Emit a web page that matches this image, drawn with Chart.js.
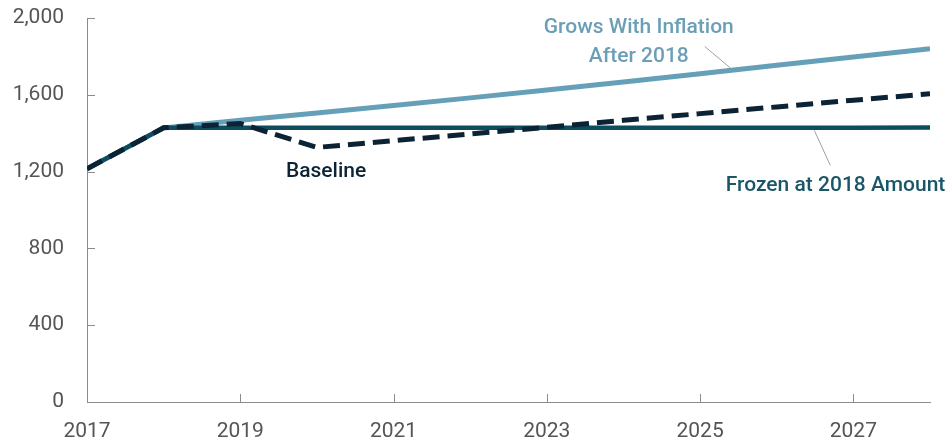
<!DOCTYPE html>
<html>
<head>
<meta charset="utf-8">
<script src="https://cdn.jsdelivr.net/npm/chart.js@4"></script>
<style>
  html, body { margin: 0; padding: 0; background: #ffffff; }
  #wrap { width: 951px; height: 444px; position: relative; }
</style>
</head>
<body>
<div id="wrap"><canvas id="c" width="951" height="444"></canvas></div>
<script>
// ---- data ----
const years = [2017, 2018, 2019, 2020, 2021, 2022, 2023, 2024, 2025, 2026, 2027, 2028];
const baselineValues = [1215, 1428, 1450, 1326, 1361, 1396, 1431, 1467, 1502, 1537, 1572, 1605];
const frozenValues   = [1215, 1428, 1428, 1428, 1428, 1428, 1428, 1428, 1428, 1428, 1428, 1430];
const growsValues    = [1215, 1428, 1467, 1505, 1544, 1584, 1625, 1667, 1710, 1754, 1797, 1840];
const xTickLabels = [2017, 2019, 2021, 2023, 2025, 2027];
const yTickLabels = [0, 400, 800, 1200, 1600, 2000];
const seriesNames = ['Baseline', 'Frozen at 2018 Amount', 'Grows With Inflation'];

// ---- styling ----
const FONT = 'Roboto, "Liberation Sans", sans-serif';
const C_GROWS = '#65a0b8';
const C_FROZEN = '#0e4d60';
const C_BASE = '#0b2334';
const C_GROWS_TXT = '#6b9fb6';
const C_FROZEN_TXT = '#1a5668';
const C_AXIS = '#8c8c8c';
const C_TICK = '#555555';

const toPts = vals => vals.map((v, i) => ({ x: years[i], y: v }));

// annotations positioned in data units
const annotations = [
  { lines: ['Grows With Inflation', 'After 2018'], x: 2024.2, y: [1948, 1796], color: C_GROWS_TXT, align: 'center' },
  { lines: ['Frozen at 2018 Amount'], x: 2028.2, y: [1124], color: C_FROZEN_TXT, align: 'right' },
  { lines: ['Baseline'], x: 2020.12, y: [1201], color: C_BASE, align: 'center' }
];
const leaders = [
  { from: [2025.06, 1852], to: [2025.40, 1738] },
  { from: [2026.49, 1415], to: [2026.70, 1232] }
];

const decor = {
  id: 'decor',
  afterDraw(chart) {
    const { ctx, scales: { x, y }, chartArea } = chart;
    ctx.save();
    // inward tick marks
    ctx.strokeStyle = C_AXIS;
    ctx.lineWidth = 1;
    ctx.beginPath();
    xTickLabels.forEach(v => {
      const px = Math.round(x.getPixelForValue(v)) + 0.5;
      ctx.moveTo(px, chartArea.bottom);
      ctx.lineTo(px, chartArea.bottom - 8);
    });
    yTickLabels.forEach(v => {
      const py = Math.round(y.getPixelForValue(v)) + 0.5;
      ctx.moveTo(chartArea.left, py);
      ctx.lineTo(chartArea.left + 8, py);
    });
    ctx.stroke();
    // leader lines
    ctx.strokeStyle = '#a0a0a0';
    ctx.lineWidth = 1;
    leaders.forEach(l => {
      ctx.beginPath();
      ctx.moveTo(x.getPixelForValue(l.from[0]), y.getPixelForValue(l.from[1]));
      ctx.lineTo(x.getPixelForValue(l.to[0]), y.getPixelForValue(l.to[1]));
      ctx.stroke();
    });
    // labels
    ctx.font = '500 21px ' + FONT;
    ctx.textBaseline = 'middle';
    annotations.forEach(a => {
      ctx.fillStyle = a.color;
      ctx.textAlign = a.align;
      a.lines.forEach((t, i) => {
        ctx.fillText(t, x.getPixelForValue(a.x), y.getPixelForValue(a.y[i]));
      });
    });
    ctx.restore();
  }
};

new Chart(document.getElementById('c'), {
  type: 'line',
  data: {
    datasets: [
      { label: seriesNames[0], data: toPts(baselineValues), borderColor: C_BASE, borderWidth: 5,
        borderDash: [17, 8], borderCapStyle: 'butt', pointRadius: 0, tension: 0, fill: false },
      { label: seriesNames[1], data: toPts(frozenValues), borderColor: C_FROZEN, borderWidth: 4.5,
        pointRadius: 0, tension: 0, fill: false },
      { label: seriesNames[2], data: toPts(growsValues), borderColor: C_GROWS, borderWidth: 5,
        pointRadius: 0, tension: 0, fill: false }
    ]
  },
  options: {
    responsive: false,
    animation: false,
    events: [],
    layout: { padding: { top: 18, right: 21, left: 0, bottom: 0 } },
    plugins: { legend: { display: false }, tooltip: { enabled: false } },
    scales: {
      x: {
        type: 'linear',
        min: years[0],
        max: years[years.length - 1],
        afterBuildTicks: s => { s.ticks = xTickLabels.map(v => ({ value: v })); },
        afterFit: s => { s.height = 42; s.paddingLeft = 0; s.paddingRight = 0; },
        grid: { display: true, drawOnChartArea: false, drawTicks: false },
        border: { display: true, color: C_AXIS, width: 1 },
        ticks: { color: C_TICK, font: { family: FONT, size: 21 }, padding: 17,
                 maxRotation: 0, autoSkip: false, callback: v => String(v) }
      },
      y: {
        min: 0,
        max: 2000,
        afterBuildTicks: s => { s.ticks = yTickLabels.map(v => ({ value: v })); },
        afterFit: s => { s.width = 87; s.paddingTop = 0; s.paddingBottom = 0; },
        grid: { display: true, drawOnChartArea: false, drawTicks: false },
        border: { display: true, color: C_AXIS, width: 1 },
        ticks: { color: C_TICK, font: { family: FONT, size: 21 }, padding: 23,
                 callback: v => v.toLocaleString('en-US') }
      }
    }
  },
  plugins: [decor]
});
</script>
</body>
</html>
